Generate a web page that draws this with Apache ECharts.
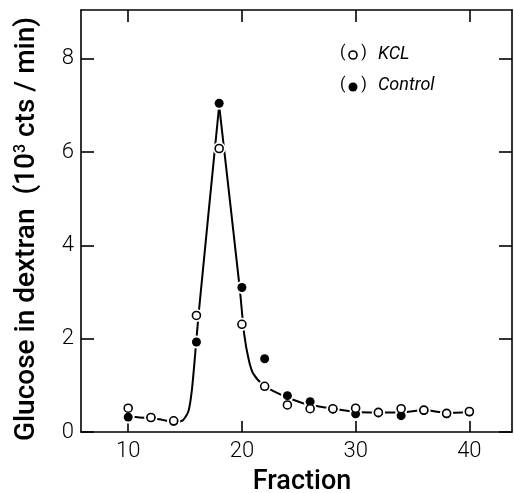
<!DOCTYPE html>
<html lang="en">
<head>
    <meta charset="UTF-8">
    <title>Glucose in dextran</title>
    <script src="https://cdn.jsdelivr.net/npm/echarts@6/dist/echarts.min.js"></script>
    <style>
        * {
            margin: 0;
            padding: 0
        }

        html, body {
            width: 100%;
            height: 100%;
            background: #fff;
        }
    </style>
</head>
<body>
<div id="main" style="width: 514px;height:493px;"></div>
<script type="text/javascript">
    // fractions where points were measured
    var fractions = [10, 12, 14, 16, 18, 20, 22, 24, 26, 28, 30, 32, 34, 36, 38, 40];
    // open circles (KCL)
    var kclValues = [0.51, 0.31, 0.24, 2.50, 6.08, 2.31, 0.98, 0.58, 0.50, 0.50, 0.51, 0.42, 0.50, 0.47, 0.40, 0.44];
    // filled circles (Control)
    var controlValues = [0.32, 0.31, 0.23, 1.93, 7.05, 3.10, 1.57, 0.78, 0.65, 0.49, 0.39, 0.41, 0.35, 0.46, 0.39, 0.43];

    // hand drawn curve (peak is a sharp point)
    var curveX = [10, 11, 12, 13, 14, 14.8, 15.3, 15.6, 15.9, 16.2, 18, 19.8, 20.2, 20.6, 21, 22, 23, 24, 25, 26, 28, 30, 32, 34, 36, 38, 40];
    var curveY = [0.33, 0.31, 0.30, 0.26, 0.22, 0.25, 0.45, 0.90, 1.70, 2.55, 7.00, 3.10, 2.10, 1.55, 1.25, 0.98, 0.85, 0.74, 0.65, 0.58, 0.50, 0.43, 0.42, 0.42, 0.47, 0.41, 0.43];
    var peakIndex = 10;

    var xTicks = [10, 20, 30, 40];
    var yTicks = [0, 2, 4, 6, 8];

    function pairs(xs, ys) {
        var out = [];
        for (var i = 0; i < xs.length; i++) {
            out.push([xs[i], ys[i]]);
        }
        return out;
    }

    var curve = pairs(curveX, curveY);

    var myChart = echarts.init(document.getElementById('main'));

    var lineStyle = {color: '#000', width: 1.6};
    var labelFont = {color: '#000', fontFamily: 'Roboto', fontWeight: 300, fontSize: 22};

    var option = {
        animation: false,
        grid: {left: 81, right: 2, top: 10, bottom: 61, outerBoundsMode: 'none'},
        xAxis: [
            {
                type: 'value',
                min: 5.85,
                max: 43.75,
                name: 'Fraction',
                nameLocation: 'middle',
                nameGap: 37,
                nameTextStyle: {color: '#000', fontFamily: 'Roboto', fontWeight: 500, fontSize: 27, padding: [0, 0, 0, 11]},
                axisLine: {show: true, onZero: false, lineStyle: lineStyle},
                axisTick: {show: true, inside: true, length: 11, customValues: xTicks, lineStyle: lineStyle},
                axisLabel: Object.assign({margin: 8, customValues: xTicks}, labelFont),
                splitLine: {show: false}
            },
            {
                type: 'value',
                position: 'top',
                min: 5.85,
                max: 43.75,
                axisLine: {show: true, onZero: false, lineStyle: lineStyle},
                axisTick: {show: true, inside: true, length: 12, customValues: xTicks, lineStyle: lineStyle},
                axisLabel: {show: false},
                splitLine: {show: false}
            }
        ],
        yAxis: [
            {
                type: 'value',
                min: 0,
                max: 9.05,
                name: '{a|Glucose in dextran  (10}{s|3}{a| cts / min)}',
                nameLocation: 'middle',
                nameGap: 40,
                nameTextStyle: {
                    rich: {
                        a: {color: '#000', fontFamily: 'Roboto', fontWeight: 500, fontSize: 28},
                        s: {color: '#000', fontFamily: 'Roboto', fontWeight: 500, fontSize: 16, verticalAlign: 'top', padding: [0, 0, 12, 0]}
                    },
                    padding: [0, 16, 0, 0]
                },
                axisLine: {show: true, onZero: false, lineStyle: lineStyle},
                axisTick: {show: true, inside: true, length: 13, customValues: yTicks, lineStyle: lineStyle},
                axisLabel: Object.assign({margin: 7, customValues: yTicks}, labelFont),
                splitLine: {show: false}
            },
            {
                type: 'value',
                position: 'right',
                min: 0,
                max: 9.05,
                axisLine: {show: true, onZero: false, lineStyle: lineStyle},
                axisTick: {show: true, inside: true, length: 13, customValues: yTicks, lineStyle: lineStyle},
                axisLabel: {show: false},
                splitLine: {show: false}
            }
        ],
        series: [
            {
                name: 'rise',
                type: 'line',
                data: curve.slice(0, peakIndex + 1),
                smooth: 0.25,
                showSymbol: false,
                lineStyle: {color: '#000', width: 2},
                z: 2
            },
            {
                name: 'fall',
                type: 'line',
                data: curve.slice(peakIndex),
                smooth: 0.25,
                showSymbol: false,
                lineStyle: {color: '#000', width: 2},
                z: 2
            },
            {
                // white gap round each point
                name: 'halo',
                type: 'scatter',
                data: pairs(fractions, kclValues).concat(pairs(fractions, controlValues)),
                symbol: 'circle',
                symbolSize: 13,
                itemStyle: {color: '#fff', opacity: 1},
                silent: true,
                z: 3
            },
            {
                name: 'Control',
                type: 'scatter',
                data: pairs(fractions, controlValues),
                symbol: 'circle',
                symbolSize: 9,
                itemStyle: {color: '#000', opacity: 1},
                z: 4
            },
            {
                name: 'KCL',
                type: 'scatter',
                data: pairs(fractions, kclValues),
                symbol: 'circle',
                symbolSize: 8,
                itemStyle: {color: '#fff', borderColor: '#000', borderWidth: 1.6, opacity: 1},
                z: 5
            }
        ],
        graphic: [
            {type: 'text', left: 340, top: 45, style: {text: '(    )', fill: '#000', font: '16px Roboto'}},
            {type: 'circle', shape: {cx: 353, cy: 55, r: 4}, style: {fill: '#fff', stroke: '#000', lineWidth: 1.6}},
            {type: 'text', left: 378, top: 45, style: {text: 'KCL', fill: '#000', font: 'italic 18px Roboto'}},
            {type: 'text', left: 340, top: 77, style: {text: '(    )', fill: '#000', font: '16px Roboto'}},
            {type: 'circle', shape: {cx: 353, cy: 87, r: 4.5}, style: {fill: '#000'}},
            {type: 'text', left: 378, top: 76, style: {text: 'Control', fill: '#000', font: 'italic 18px Roboto'}}
        ]
    };

    myChart.setOption(option);
</script>
</body>
</html>
